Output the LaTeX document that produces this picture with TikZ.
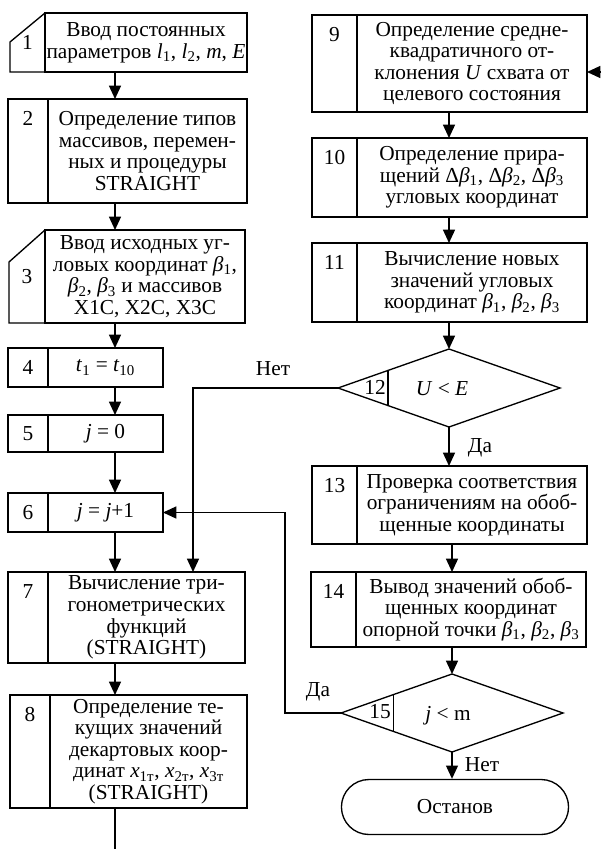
\documentclass[tikz,border=0pt]{standalone}
\usepackage{fontspec}
\setmainfont{Liberation Serif}
\usetikzlibrary{arrows.meta,shapes.geometric,shapes.misc,positioning,calc}

\newcommand{\bodyfont}{\fontsize{16}{16.2}\selectfont}

\tikzset{
	line/.style={line width=1pt},
	cell/.style={draw, line width=1pt, inner sep=0pt, outer sep=0pt, font=\bodyfont},
	txt/.style={cell, align=center},
	numtop/.style={label={[inner sep=0pt, anchor=north, yshift=-9pt, font=\bodyfont]north:#1}},
	decide/.style={diamond, draw, line width=1pt, inner sep=0pt, outer sep=0pt,
		minimum width=166.5pt, minimum height=58.5pt},
	flow/.style={line width=1pt, -{Triangle[length=10pt,width=9pt]}},
	lbl/.style={font=\bodyfont, inner sep=1pt}
}

\begin{document}
\begin{tikzpicture}[x=0.75pt, y=-0.75pt]
	
	\useasboundingbox (0,0) rectangle (601,849);
	
	% Left column
	
	\node[cell, draw=none, anchor=north west, minimum width=26.25pt, minimum height=44.25pt]
	(c1) at (10,13) {1};
	\node[txt, right=0pt of c1, minimum width=151.5pt, minimum height=44.25pt]
	(b1) {Ввод постоянных\\параметров \textit{l}\textsubscript{1}, \textit{l}\textsubscript{2}, \textit{m}, \textit{E}};
	\draw[line] (c1.north east) -- ([yshift=-21.75pt]c1.north west) -- (c1.south west) -- (c1.south east);
	
	\node[cell, anchor=north west, minimum width=30pt, minimum height=78pt, numtop=2]
	(c2) at (8,99) {};
	\node[txt, right=0pt of c2, minimum width=149.25pt, minimum height=78pt]
	(b2) {Определение типов\\массивов, перемен-\\ных и процедуры\\STRAIGHT};
	
	\node[cell, draw=none, anchor=north west, minimum width=27pt, minimum height=69.75pt]
	(c3) at (9,230) {3};
	\node[txt, right=0pt of c3, minimum width=150pt, minimum height=69.75pt]
	(b3) {Ввод исходных уг-\\ловых координат \textit{β}\textsubscript{1},\\\textit{β}\textsubscript{2}, \textit{β}\textsubscript{3} и массивов\\X1C, X2C, X3C};
	\draw[line] (c3.north east) -- ([yshift=-24pt]c3.north west) -- (c3.south west) -- (c3.south east);
	
	\node[cell, anchor=north west, minimum width=30pt, minimum height=29.25pt]
	(c4) at (8,348) {4};
	\node[txt, right=0pt of c4, minimum width=86.25pt, minimum height=29.25pt]
	(b4) {\textit{t}\textsubscript{1} = \textit{t}\textsubscript{10}};
	
	\node[cell, anchor=north west, minimum width=30pt, minimum height=27.75pt]
	(c5) at (8,415) {5};
	\node[txt, right=0pt of c5, minimum width=86.25pt, minimum height=27.75pt]
	(b5) {\textit{j} = 0};
	
	\node[cell, anchor=north west, minimum width=30pt, minimum height=29.25pt]
	(c6) at (8,493) {6};
	\node[txt, right=0pt of c6, minimum width=86.25pt, minimum height=29.25pt]
	(b6) {\textit{j} = \textit{j}+1};
	
	\node[cell, anchor=north west, minimum width=30pt, minimum height=68.25pt, numtop=7]
	(c7) at (8,572) {};
	\node[txt, right=0pt of c7, minimum width=147.75pt, minimum height=68.25pt]
	(b7) {Вычисление три-\\гонометрических\\функций\\(STRAIGHT)};
	
	\node[cell, anchor=north west, minimum width=30pt, minimum height=84.75pt, numtop=8]
	(c8) at (10,695) {};
	\node[txt, right=0pt of c8, minimum width=147.75pt, minimum height=84.75pt]
	(b8) {Определение те-\\кущих значений\\декартовых коор-\\динат \textit{x}\textsubscript{1т}, \textit{x}\textsubscript{2т}, \textit{x}\textsubscript{3т}\\(STRAIGHT)};
	
	% Right column
	
	\node[cell, anchor=north west, minimum width=33.75pt, minimum height=72.75pt, numtop=9]
	(c9) at (312,15) {};
	\node[txt, right=0pt of c9, minimum width=172.5pt, minimum height=72.75pt]
	(b9) {Определение средне-\\квадратичного от-\\клонения \textit{U} схвата от\\целевого состояния};
	
	\node[cell, anchor=north west, minimum width=33.75pt, minimum height=59.25pt, numtop=10]
	(c10) at (312,138) {};
	\node[txt, right=0pt of c10, minimum width=172.5pt, minimum height=59.25pt]
	(b10) {Определение прира-\\щений Δ\textit{β}\textsubscript{1}, Δ\textit{β}\textsubscript{2}, Δ\textit{β}\textsubscript{3}\\угловых координат};
	
	\node[cell, anchor=north west, minimum width=33.75pt, minimum height=59.25pt, numtop=11]
	(c11) at (312,243) {};
	\node[txt, right=0pt of c11, minimum width=172.5pt, minimum height=59.25pt]
	(b11) {Вычисление новых\\значений угловых\\координат \textit{β}\textsubscript{1}, \textit{β}\textsubscript{2}, \textit{β}\textsubscript{3}};
	
	\node[decide] (d12) at (449,388) {};
	\draw[line] ($(d12.west)!0.45!(d12.north)$) -- ($(d12.west)!0.45!(d12.south)$);
	\node[lbl] (n12) at (375,387) {12};
	\node[lbl] (q12) at (442,389) {\textit{U} < \textit{E}};
	
	\node[cell, anchor=north west, minimum width=33.75pt, minimum height=58.5pt, numtop=13]
	(c13) at (312,466) {};
	\node[txt, right=0pt of c13, minimum width=172.5pt, minimum height=58.5pt]
	(b13) {Проверка соответствия\\ограничениям на обоб-\\щенные координаты};
	
	\node[cell, anchor=north west, minimum width=33.75pt, minimum height=56.25pt, numtop=14]
	(c14) at (311,572) {};
	\node[txt, right=0pt of c14, minimum width=172.5pt, minimum height=56.25pt]
	(b14) {Вывод значений обоб-\\щенных координат\\опорной точки \textit{β}\textsubscript{1}, \textit{β}\textsubscript{2}, \textit{β}\textsubscript{3}};
	
	\node[decide] (d15) at (452,713) {};
	\draw[line] ($(d15.west)!0.47!(d15.north)$) -- ($(d15.west)!0.47!(d15.south)$);
	\node[lbl] (n15) at (380,712) {15};
	\node[lbl] (q15) at (448,716) {\textit{j} < m};
	
	\node[rounded rectangle, draw, line width=1pt, minimum width=177pt, minimum height=41.25pt, font=\bodyfont]
	(stop) at (455,807) {Останов};
	
	% Helper coordinates
	
	\coordinate (lx) at (115,0);
	\coordinate (rx) at (449,0);
	\coordinate (nx) at (193,0);
	\coordinate (yx) at (285,0);
	\coordinate (out8) at (115,849);
	\coordinate (in9) at (601,72);
	
	% Arrows
	
	\draw[flow] (b1.south -| lx) -- (b2.north -| lx);
	\draw[flow] (b2.south -| lx) -- (b3.north -| lx);
	\draw[flow] (b3.south -| lx) -- (b4.north -| lx);
	\draw[flow] (b4.south -| lx) -- (b5.north -| lx);
	\draw[flow] (b5.south -| lx) -- (b6.north -| lx);
	\draw[flow] (b6.south -| lx) -- (b7.north -| lx);
	\draw[flow] (b7.south -| lx) -- (b8.north -| lx);
	\draw[line] (b8.south -| lx) -- (out8);
	
	\draw[flow] (in9) -- (in9 -| b9.east);
	\draw[flow] (b9.south -| rx) -- (b10.north -| rx);
	\draw[flow] (b10.south -| rx) -- (b11.north -| rx);
	\draw[flow] (b11.south -| rx) -- (d12.north);
	\draw[flow] (d12.south) -- (d12.south |- b13.north);
	\draw[flow] (b13.south -| d15) -- (b14.north -| d15);
	\draw[flow] (b14.south -| d15) -- (d15.north);
	\draw[flow] (d15.south) -- (stop.north -| d15);
	
	% Loops
	
	\draw[flow] (d12.west) -| (nx |- b7.north);
	\draw[flow] (d15.west) -- (d15.west -| yx) |- (b6.east);
	
	\node[lbl] (no12) at (273,369) {Нет};
	\node[lbl] (yes12) at (480,448) {Да};
	\node[lbl] (yes15) at (318,692) {Да};
	\node[lbl] (no15) at (482,765) {Нет};
	
\end{tikzpicture}
\end{document}
